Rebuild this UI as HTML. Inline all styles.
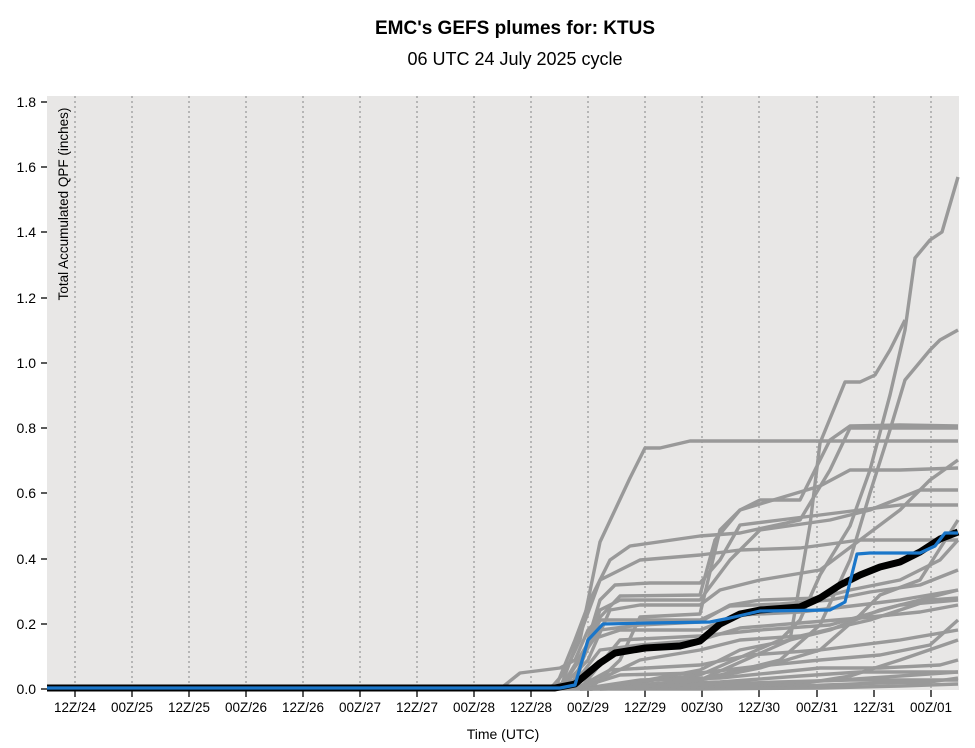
<!DOCTYPE html>
<html><head><meta charset="utf-8"><style>
body{margin:0;background:#fff;}
svg{display:block;font-family:"Liberation Sans",Arial,sans-serif;}
</style></head><body>
<svg width="975" height="748" viewBox="0 0 975 748">
<text x="515" y="34" text-anchor="middle" font-size="19" font-weight="bold">EMC's GEFS plumes for: KTUS</text>
<text x="515" y="65" text-anchor="middle" font-size="18">06 UTC 24 July 2025 cycle</text>
<rect x="47" y="96" width="912" height="594" fill="#e8e7e6"/>
<g stroke="#aaa" stroke-width="1.6" stroke-dasharray="2,3">
<line x1="75" y1="96" x2="75" y2="690"/><line x1="132" y1="96" x2="132" y2="690"/><line x1="189" y1="96" x2="189" y2="690"/><line x1="246" y1="96" x2="246" y2="690"/><line x1="303" y1="96" x2="303" y2="690"/><line x1="360" y1="96" x2="360" y2="690"/><line x1="417" y1="96" x2="417" y2="690"/><line x1="474" y1="96" x2="474" y2="690"/><line x1="531" y1="96" x2="531" y2="690"/><line x1="588" y1="96" x2="588" y2="690"/><line x1="645" y1="96" x2="645" y2="690"/><line x1="702" y1="96" x2="702" y2="690"/><line x1="759" y1="96" x2="759" y2="690"/><line x1="817" y1="96" x2="817" y2="690"/><line x1="874" y1="96" x2="874" y2="690"/><line x1="931" y1="96" x2="931" y2="690"/>
</g>
<g stroke="#000" stroke-width="1.3">
<line x1="41" y1="102" x2="47" y2="102"/><line x1="41" y1="167" x2="47" y2="167"/><line x1="41" y1="232" x2="47" y2="232"/><line x1="41" y1="298" x2="47" y2="298"/><line x1="41" y1="363" x2="47" y2="363"/><line x1="41" y1="428" x2="47" y2="428"/><line x1="41" y1="493" x2="47" y2="493"/><line x1="41" y1="559" x2="47" y2="559"/><line x1="41" y1="624" x2="47" y2="624"/><line x1="41" y1="689" x2="47" y2="689"/>
<line x1="75" y1="690" x2="75" y2="697"/><line x1="132" y1="690" x2="132" y2="697"/><line x1="189" y1="690" x2="189" y2="697"/><line x1="246" y1="690" x2="246" y2="697"/><line x1="303" y1="690" x2="303" y2="697"/><line x1="360" y1="690" x2="360" y2="697"/><line x1="417" y1="690" x2="417" y2="697"/><line x1="474" y1="690" x2="474" y2="697"/><line x1="531" y1="690" x2="531" y2="697"/><line x1="588" y1="690" x2="588" y2="697"/><line x1="645" y1="690" x2="645" y2="697"/><line x1="702" y1="690" x2="702" y2="697"/><line x1="759" y1="690" x2="759" y2="697"/><line x1="817" y1="690" x2="817" y2="697"/><line x1="874" y1="690" x2="874" y2="697"/><line x1="931" y1="690" x2="931" y2="697"/>
</g>
<g font-size="14" text-anchor="end">
<text x="36" y="107">1.8</text><text x="36" y="172">1.6</text><text x="36" y="237">1.4</text><text x="36" y="303">1.2</text><text x="36" y="368">1.0</text><text x="36" y="433">0.8</text><text x="36" y="498">0.6</text><text x="36" y="564">0.4</text><text x="36" y="629">0.2</text><text x="36" y="694">0.0</text>
</g>
<g font-size="13.5" text-anchor="middle">
<text x="75" y="712">12Z/24</text><text x="132" y="712">00Z/25</text><text x="189" y="712">12Z/25</text><text x="246" y="712">00Z/26</text><text x="303" y="712">12Z/26</text><text x="360" y="712">00Z/27</text><text x="417" y="712">12Z/27</text><text x="474" y="712">00Z/28</text><text x="531" y="712">12Z/28</text><text x="588" y="712">00Z/29</text><text x="645" y="712">12Z/29</text><text x="702" y="712">00Z/30</text><text x="759" y="712">12Z/30</text><text x="817" y="712">00Z/31</text><text x="874" y="712">12Z/31</text><text x="931" y="712">00Z/01</text>
</g>
<text x="503" y="739" text-anchor="middle" font-size="14">Time (UTC)</text>
<text transform="translate(68,204) rotate(-90)" text-anchor="middle" font-size="13.5">Total Accumulated QPF (inches)</text>
<g fill="none" stroke="#999" stroke-width="3.4" stroke-linejoin="round">
<polyline points="47,689 550,689 565,672 580,640 600,542 630,478 645,448 660,448 690,441 780,441 958,441"/>
<polyline points="47,689 590,689 620,684 700,675 780,640 800,620 820,575 850,526 870,470 890,395 905,330 915,258 930,240 942,232 958,177"/>
<polyline points="590,689 700,680 780,660 820,625 850,560 870,493 890,430 905,380 930,350 940,340 958,330"/>
<polyline points="590,689 700,680 790,640 810,525 820,443 845,382 860,382 875,375 890,350 905,320"/>
<polyline points="590,689 620,660 640,617 700,614 720,530 740,510 760,500 800,500 815,470 830,440 850,426 900,425 958,426"/>
<polyline points="555,689 575,640 590,600 610,560 630,546 700,536 740,533 800,520 830,470 850,428 958,428"/>
<polyline points="575,689 585,650 600,600 615,585 650,583 700,583 720,560 740,525 780,520 860,510 900,505 958,505"/>
<polyline points="500,689 520,673 560,668 575,660 588,630 620,596 700,595 715,540 740,510 820,486 850,470 900,470 958,468"/>
<polyline points="540,689 575,680 600,610 620,600 700,600 730,560 760,530 830,520 870,510 920,490 958,490"/>
<polyline points="560,689 588,660 610,610 640,605 700,605 720,590 760,580 820,570 860,540 900,510 930,480 958,460"/>
<polyline points="560,689 600,630 640,625 700,622 730,605 760,600 820,598 850,590 900,580 940,560 958,540"/>
<polyline points="570,689 600,620 640,620 700,620 730,606 780,604 830,600 870,592 920,585 958,570"/>
<polyline points="560,689 590,640 620,630 700,630 740,615 800,612 860,605 900,600 958,590"/>
<polyline points="570,689 600,650 640,645 700,640 740,628 800,623 860,618 920,612 958,605"/>
<polyline points="575,689 610,670 700,665 750,655 820,650 860,645 900,640 958,630"/>
<polyline points="575,689 620,675 700,673 760,666 820,660 880,655 930,645 958,620"/>
<polyline points="580,689 640,680 720,678 780,672 820,668 880,668 940,665 958,660"/>
<polyline points="580,689 650,684 720,682 800,676 860,672 930,672 958,672"/>
<polyline points="580,689 680,686 760,684 840,680 900,676 958,672"/>
<polyline points="580,689 700,688 800,686 880,683 930,682 958,678"/>
<polyline points="590,689 700,689 820,688 900,686 958,684"/>
<polyline points="590,689 700,680 760,668 820,650 860,615 880,595 920,580 958,520"/>
<polyline points="600,689 700,670 740,650 790,640 830,630 880,610 920,600 958,590"/>
<polyline points="580,689 640,660 700,650 740,640 800,636 870,620 930,600 958,598"/>
<polyline points="600,689 720,686 800,684 850,676 900,660 958,640"/>
<polyline points="588,689 650,686 720,684 780,682 850,680 958,680"/>
<polyline points="560,689 600,580 640,560 700,555 740,550 800,548 860,540 958,540"/>
<polyline points="580,689 620,640 700,636 760,630 830,625 900,605 958,600"/>
</g>
<polyline fill="none" stroke="#000" stroke-width="7" stroke-linejoin="round" points="47,688 555,688 575,684 588,673 600,663 615,653 645,648 680,646 700,641 720,624 740,614 760,610 800,607 820,598 840,585 860,575 880,567 900,562 920,552 940,539 958,532"/>
<polyline fill="none" stroke="#1a76c9" stroke-width="3.2" stroke-linejoin="round" points="47,688 560,688 575,685 588,640 603,624 650,623 710,622 730,618 760,611 830,610 845,602 857,554 870,553 920,553 935,546 945,533 958,533"/>
</svg>
</body></html>
